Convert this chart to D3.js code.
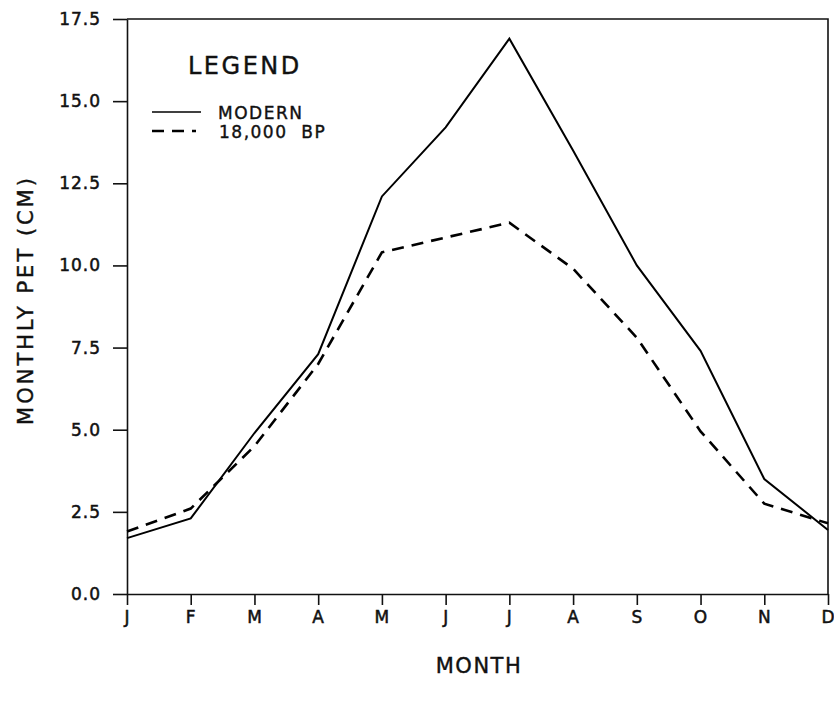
<html>
<head>
	<title>Monthly PET</title>
	<style type="text/css">
		body{
			margin: 0;
			background-color: #fff;
		}
		svg{
			background-color: #fff;
		}
		.axis line, .axis path{
			stroke: #111;
			stroke-width: 1.6px;
		}
		.axis text{
			fill: #111; /* fill, not color */
			font-family: "DejaVu Sans", sans-serif;
			font-size: 17px;
			letter-spacing: 1px;
			stroke: #111;
			stroke-width: 0.5px;
		}
		.label{
			fill: #111;
			font-family: "DejaVu Sans", sans-serif;
			stroke: #111;
			stroke-width: 0.4px;
		}
	</style>
	<script type="text/javascript" src="https://cdnjs.cloudflare.com/ajax/libs/d3/7.8.5/d3.min.js"></script>
</head>
<body>
	<div id="chart"></div>

	<script type="text/javascript">
		var months = ['J', 'F', 'M', 'A', 'M', 'J', 'J', 'A', 'S', 'O', 'N', 'D'];
		var modern = [1.7, 2.3, 4.9, 7.3, 12.1, 14.2, 16.9, 13.5, 10.0, 7.4, 3.5, 1.95];
		var bp18000 = [1.9, 2.6, 4.5, 7.0, 10.4, 10.85, 11.3, 9.9, 7.8, 4.95, 2.75, 2.15];
		var yTicks = [0, 2.5, 5, 7.5, 10, 12.5, 15, 17.5];

		var width = 834, height = 703;
		var plotLeft = 127, plotRight = 828, plotTop = 19, plotBottom = 594;

		var svg = d3.select('#chart')
			.append('svg')
			.attr('width', width)
			.attr('height', height);

		var xScale = d3.scaleLinear()
			.domain([0, months.length - 1])
			.range([plotLeft, plotRight]);
		var yScale = d3.scaleLinear()
			.domain([0, 17.5])
			.range([plotBottom, plotTop]);

		var xAxis = d3.axisBottom(xScale)
			.tickValues(d3.range(months.length))
			.tickFormat(function(i){ return months[i]; })
			.tickSize(11)
			.tickSizeOuter(0)
			.tickPadding(6);
		var yAxis = d3.axisLeft(yScale)
			.tickValues(yTicks)
			.tickFormat(d3.format('.1f'))
			.tickSize(14)
			.tickSizeOuter(0)
			.tickPadding(12);

		svg.append('g')
			.attr('class', 'axis')
			.attr('transform', 'translate(0,' + plotBottom + ')')
			.call(xAxis);
		svg.append('g')
			.attr('class', 'axis')
			.attr('transform', 'translate(' + plotLeft + ',0)')
			.call(yAxis);

		// top and right of the frame
		svg.append('path')
			.attr('d', 'M' + xScale(0) + ',' + yScale(17.5) + 'H' + xScale(11) + 'V' + yScale(0))
			.attr('fill', 'none')
			.attr('stroke', '#111')
			.attr('stroke-width', 1.6);

		var line = d3.line()
			.x(function(d, i){ return xScale(i); })
			.y(function(d){ return yScale(d); });

		svg.append('path')
			.datum(modern)
			.attr('d', line)
			.attr('fill', 'none')
			.attr('stroke', '#000')
			.attr('stroke-width', 2);

		svg.append('path')
			.datum(bp18000)
			.attr('d', line)
			.attr('fill', 'none')
			.attr('stroke', '#000')
			.attr('stroke-width', 2.6)
			.attr('stroke-dasharray', '12,8');

		// legend
		svg.append('text')
			.attr('class', 'label')
			.attr('x', 188)
			.attr('y', 74)
			.attr('font-size', 24)
			.attr('letter-spacing', 2.5)
			.text('LEGEND');

		svg.append('line')
			.attr('x1', 152).attr('x2', 201)
			.attr('y1', 112).attr('y2', 112)
			.attr('stroke', '#000')
			.attr('stroke-width', 1.6);
		svg.append('text')
			.attr('class', 'label')
			.attr('x', 218)
			.attr('y', 119)
			.attr('font-size', 17)
			.attr('letter-spacing', 1.5)
			.text('MODERN');

		svg.append('line')
			.attr('x1', 152).attr('x2', 196)
			.attr('y1', 131).attr('y2', 131)
			.attr('stroke', '#000')
			.attr('stroke-width', 2.6)
			.attr('stroke-dasharray', '12,8');
		svg.append('text')
			.attr('class', 'label')
			.attr('x', 219)
			.attr('y', 138)
			.attr('font-size', 17)
			.attr('letter-spacing', 1.5)
			.text('18,000\u00a0\u00a0BP');

		// axis titles
		svg.append('text')
			.attr('class', 'label')
			.attr('x', 479)
			.attr('y', 673)
			.attr('text-anchor', 'middle')
			.attr('font-size', 21)
			.attr('letter-spacing', 1.5)
			.text('MONTH');

		svg.append('text')
			.attr('class', 'label')
			.attr('transform', 'translate(33,' + yScale(8.95) + ') rotate(-90)')
			.attr('text-anchor', 'middle')
			.attr('font-size', 21)
			.attr('letter-spacing', 3)
			.text('MONTHLY PET (CM)');
	</script>
</body>
</html>
